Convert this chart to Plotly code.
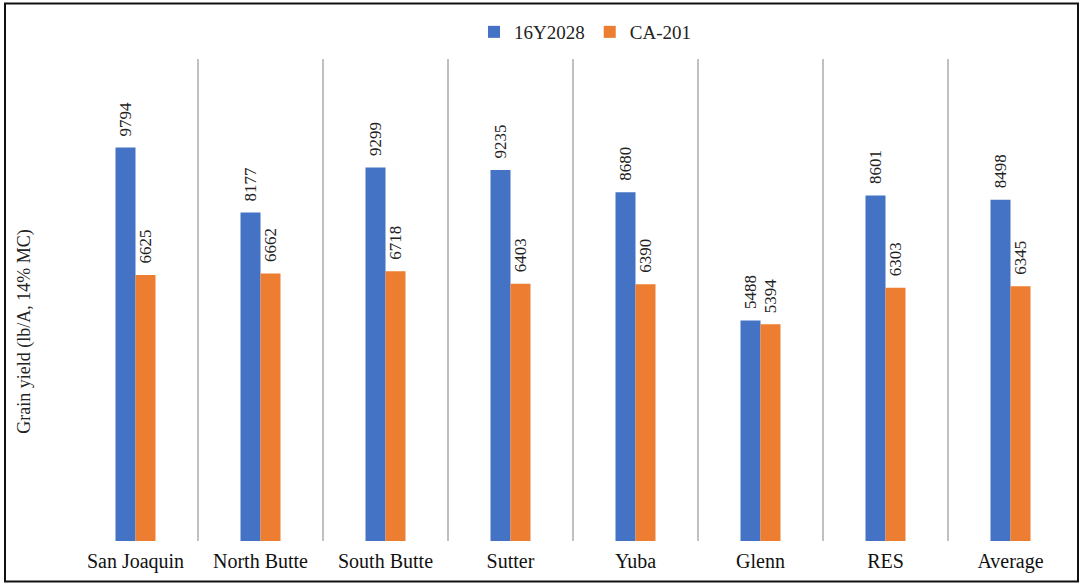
import plotly.graph_objects as go

# Grain yield by location for two rice lines
locations = ["San Joaquin", "North Butte", "South Butte", "Sutter", "Yuba", "Glenn", "RES", "Average"]
yield_16y2028 = [9794, 8177, 9299, 9235, 8680, 5488, 8601, 8498]
yield_ca201 = [6625, 6662, 6718, 6403, 6390, 5394, 6303, 6345]
series_names = ["16Y2028", "CA-201"]
y_title = "Grain yield (lb/A, 14% MC)"

FONT = "'Times New Roman', 'Liberation Serif', serif"
BLUE = "#4472C4"
ORANGE = "#ED7D31"

series = [
    (series_names[0], yield_16y2028, BLUE, -10),
    (series_names[1], yield_ca201, ORANGE, 10),
]

fig = go.Figure()
annotations = []
for name, vals, color, dx in series:
    fig.add_trace(go.Bar(
        name=name,
        x=locations,
        y=vals,
        marker=dict(color=color, line=dict(width=0)),
    ))
    # rotated value labels sitting just above each bar
    for loc, v in zip(locations, vals):
        annotations.append(dict(
            x=loc, y=v, xref="x", yref="y",
            text=str(v),
            textangle=-90,
            xanchor="center", yanchor="bottom",
            xshift=dx, yshift=9,
            showarrow=False,
            font=dict(family=FONT, size=17, color="#222222"),
        ))

annotations.append(dict(
    text=y_title,
    xref="paper", yref="paper",
    x=-0.048, y=0.434,
    xanchor="center", yanchor="middle",
    textangle=-90,
    showarrow=False,
    font=dict(family=FONT, size=18, color="#222222"),
))

fig.update_layout(
    width=1082,
    height=584,
    margin=dict(l=73, r=9, t=59, b=43),
    paper_bgcolor="white",
    plot_bgcolor="white",
    barmode="group",
    bargap=0.68,
    bargroupgap=0,
    font=dict(family=FONT, size=16, color="#222222"),
    legend=dict(
        orientation="h",
        x=0.512, xanchor="center",
        y=1.056, yanchor="middle",
        font=dict(family=FONT, size=19, color="#222222"),
        itemwidth=30,
        traceorder="normal",
    ),
    xaxis=dict(
        type="category",
        range=[-0.5, len(locations) - 0.5],
        tickson="boundaries",
        showgrid=True,
        gridcolor="#C0C0C0",
        gridwidth=1.5,
        showline=False,
        ticks="",
        zeroline=False,
        ticklabelstandoff=6,
        tickfont=dict(family=FONT, size=20, color="#111111"),
    ),
    yaxis=dict(
        range=[0, 12000],
        showgrid=False,
        showticklabels=False,
        showline=False,
        zeroline=False,
        ticks="",
    ),
    annotations=annotations,
    shapes=[dict(
        type="rect",
        xref="paper", yref="paper",
        x0=-0.068, x1=1.005,
        y0=-0.084, y1=1.115,
        line=dict(color="#111111", width=2),
        fillcolor="rgba(0,0,0,0)",
        layer="above",
    )],
)

fig.write_html("out.html")
